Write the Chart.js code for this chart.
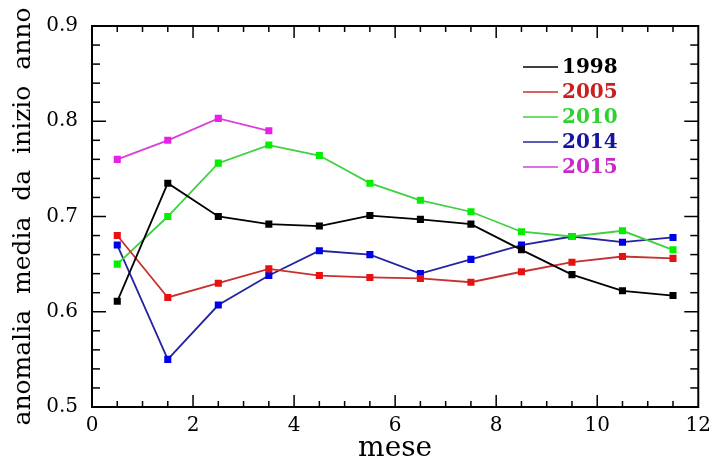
<!DOCTYPE html>
<html>
<head>
<meta charset="utf-8">
<script src="https://cdn.jsdelivr.net/npm/chart.js@4.4.1/dist/chart.umd.min.js"></script>
<style>
  html, body { margin: 0; padding: 0; background: #fff; }
  #wrap { width: 718px; height: 456px; }
</style>
</head>
<body>
<div id="wrap"><canvas id="chart"></canvas></div>
<script>
// month positions (centre of each month)
const months = [0.5, 1.5, 2.5, 3.5, 4.5, 5.5, 6.5, 7.5, 8.5, 9.5, 10.5, 11.5];

// mean anomaly since start of year
const y1998 = [0.611, 0.735, 0.700, 0.692, 0.690, 0.701, 0.697, 0.692, 0.665, 0.639, 0.622, 0.617];
const y2005 = [0.680, 0.615, 0.630, 0.645, 0.638, 0.636, 0.635, 0.631, 0.642, 0.652, 0.658, 0.656];
const y2010 = [0.650, 0.700, 0.756, 0.775, 0.764, 0.735, 0.717, 0.705, 0.684, 0.679, 0.685, 0.665];
const y2014 = [0.670, 0.550, 0.607, 0.638, 0.664, 0.660, 0.640, 0.655, 0.670, 0.679, 0.673, 0.678];
const y2015 = [0.760, 0.780, 0.803, 0.790];

const yearLabels = ["1998", "2005", "2010", "2014", "2015"];

const xTicks = [0, 2, 4, 6, 8, 10, 12];
const yTicks = [0.5, 0.6, 0.7, 0.8, 0.9];

const serif = "'DejaVu Serif', 'Liberation Serif', serif";

// line colour, marker colour, legend text colour
const styles = [
  { line: "#000000", mark: "#000000", text: "#000000" },
  { line: "#c83030", mark: "#e81010", text: "#c82020" },
  { line: "#40d040", mark: "#00f000", text: "#30d030" },
  { line: "#2424a0", mark: "#0000e8", text: "#1414a0" },
  { line: "#d840d8", mark: "#e820e8", text: "#c828c8" }
];

function toPoints(vals) {
  return vals.map((v, i) => ({ x: months[i], y: v }));
}

const series = [y1998, y2005, y2010, y2014, y2015];

const datasets = series.map((vals, i) => ({
  label: yearLabels[i],
  data: toPoints(vals),
  borderColor: styles[i].line,
  borderWidth: 1.8,
  backgroundColor: styles[i].mark,
  pointBackgroundColor: styles[i].mark,
  pointBorderColor: styles[i].mark,
  pointBorderWidth: 0,
  pointStyle: "rect",
  pointRadius: 5,
  tension: 0
}));

// closed frame with inward ticks on all four sides
const frameTicks = {
  id: "frameTicks",
  afterDatasetsDraw(chart) {
    const { ctx, chartArea: a, scales: { x, y } } = chart;
    ctx.save();
    ctx.strokeStyle = "#000";
    ctx.lineWidth = 2;
    ctx.strokeRect(a.left, a.top, a.right - a.left, a.bottom - a.top);
    ctx.lineWidth = 1.5;
    const seg = (x1, y1, x2, y2) => {
      ctx.beginPath(); ctx.moveTo(x1, y1); ctx.lineTo(x2, y2); ctx.stroke();
    };
    for (let k = 1; k < 24; k++) {
      const v = k * 0.5;
      const px = x.getPixelForValue(v);
      const len = k % 4 === 0 ? 12 : 6;
      seg(px, a.bottom, px, a.bottom - len);
      seg(px, a.top, px, a.top + len);
    }
    for (let k = 1; k < 20; k++) {
      const v = 0.5 + k * 0.02;
      const py = y.getPixelForValue(v);
      const len = k % 5 === 0 ? 14 : 8;
      seg(a.left, py, a.left + len, py);
      seg(a.right, py, a.right - len, py);
    }
    ctx.restore();
  }
};

// legend inside the plot, upper right
const insideLegend = {
  id: "insideLegend",
  afterDraw(chart) {
    const { ctx } = chart;
    ctx.save();
    ctx.font = "bold 20px " + serif;
    ctx.textBaseline = "middle";
    yearLabels.forEach((lab, i) => {
      const yy = 67 + i * 25;
      ctx.strokeStyle = styles[i].line;
      ctx.lineWidth = 1.5;
      ctx.beginPath(); ctx.moveTo(523, yy); ctx.lineTo(558, yy); ctx.stroke();
      ctx.fillStyle = styles[i].text;
      ctx.fillText(lab, 562, yy + 1);
    });
    ctx.restore();
  }
};

new Chart(document.getElementById("chart"), {
  type: "line",
  data: { datasets },
  options: {
    responsive: true,
    maintainAspectRatio: false,
    animation: false,
    layout: { padding: { top: 20, right: 8, left: 0, bottom: 0 } },
    plugins: { legend: { display: false }, tooltip: { enabled: false } },
    scales: {
      x: {
        type: "linear",
        min: 0, max: 12,
        afterBuildTicks: s => { s.ticks = xTicks.map(v => ({ value: v })); },
        afterFit: s => { s.height = 49; },
        grid: { display: false, drawTicks: false },
        border: { display: false },
        ticks: { color: "#000", font: { family: serif, size: 20 }, padding: 7, maxRotation: 0, autoSkip: false },
        title: {
          display: true, text: "mese", color: "#000",
          font: { family: serif, size: 28, lineHeight: 0.55 }, padding: 0
        }
      },
      y: {
        min: 0.5, max: 0.9,
        afterBuildTicks: s => { s.ticks = yTicks.map(v => ({ value: v })); },
        afterFit: s => { s.width = 92; },
        grid: { display: false, drawTicks: false },
        border: { display: false },
        ticks: { color: "#000", font: { family: serif, size: 20 }, padding: 14, callback: v => v.toFixed(1) },
        title: {
          display: true, text: "anomalia  media  da  inizio  anno", color: "#000",
          font: { family: serif, size: 25 }, padding: { top: 8, bottom: 0 }
        }
      }
    }
  },
  plugins: [frameTicks, insideLegend]
});
</script>
</body>
</html>
